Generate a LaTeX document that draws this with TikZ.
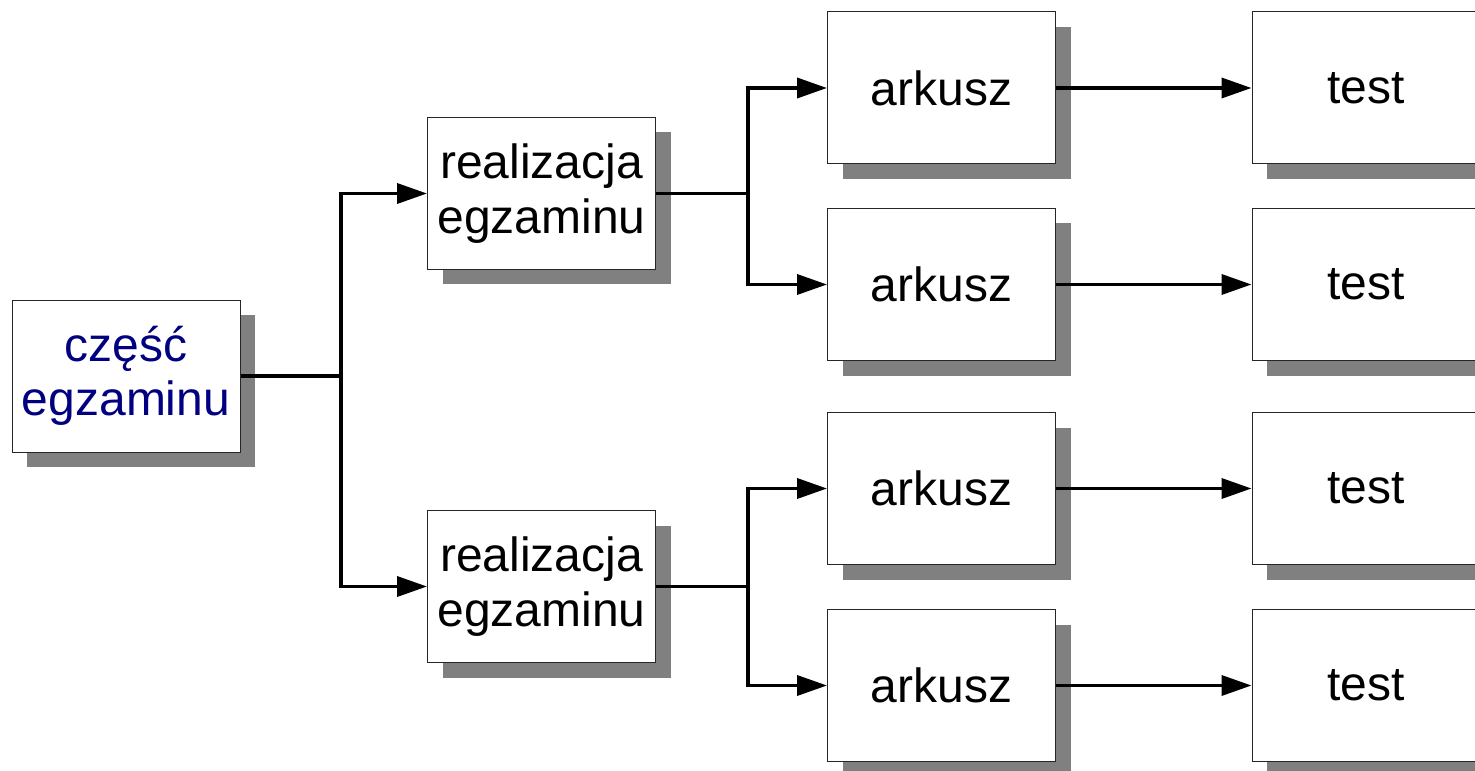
\documentclass[tikz,border=0pt]{standalone}
\usepackage{fontspec}
\setmainfont{Liberation Sans}
\usetikzlibrary{positioning}
\usetikzlibrary{arrows.meta}
\usetikzlibrary{shadows}
\usetikzlibrary{math}
\definecolor{navyblue}{RGB}{0,0,128}

\begin{document}
\begin{tikzpicture}[
    box/.style={draw=black!85, line width=0.2mm, fill=white,
      minimum width=4.56cm, minimum height=3.04cm, inner sep=0pt,
      align=center, font=\fontsize{27.3}{31}\selectfont,
      drop shadow={shadow xshift=0.3cm, shadow yshift=-0.3cm,
        fill=black!50, opacity=1}},
    conn/.style={line width=0.72mm},
    arr/.style={conn, -{Triangle[length=6mm, width=4mm]}}
  ]

  \tikzmath{
    \colA   = 2.52;  % column of the root box
    \colB   = 10.83; % column of realizacja boxes
    \colC   = 18.83; % column of arkusz boxes
    \colD   = 27.32; % column of test boxes
    \splitA = 6.82;  % first branching line
    \splitB = 14.96; % second branching line
  }

  \useasboundingbox (0,0) rectangle (29.5,-15.42);

  % root
  \node[box, text=navyblue] (czesc) at (\colA, -7.52) {część\\egzaminu};

  % realizacja egzaminu
  \node[box] (real1) at (\colB, -3.87)  {realizacja\\egzaminu};
  \node[box] (real2) at (\colB, -11.73) {realizacja\\egzaminu};

  % arkusz and test boxes
  \foreach \i/\y in {1/-1.76, 2/-5.69, 3/-9.77, 4/-13.71} {
    \node[box] (ark\i)  at (\colC, \y) {arkusz};
    \node[box] (test\i) at (\colD, \y) {test};
  }

  % branching points
  \coordinate (s0) at (\splitA, -7.52);
  \coordinate (s1) at (\splitB, -3.87);
  \coordinate (s2) at (\splitB, -11.73);

  % connectors
  \draw[conn] (czesc.east) -- (s0);
  \draw[arr] (s0) |- (real1.west);
  \draw[arr] (s0) |- (real2.west);

  \draw[conn] (real1.east) -- (s1);
  \draw[arr] (s1) |- (ark1.west);
  \draw[arr] (s1) |- (ark2.west);

  \draw[conn] (real2.east) -- (s2);
  \draw[arr] (s2) |- (ark3.west);
  \draw[arr] (s2) |- (ark4.west);

  \foreach \i in {1,...,4}
    \draw[arr] (ark\i.east) -- (test\i.west);

\end{tikzpicture}
\end{document}
